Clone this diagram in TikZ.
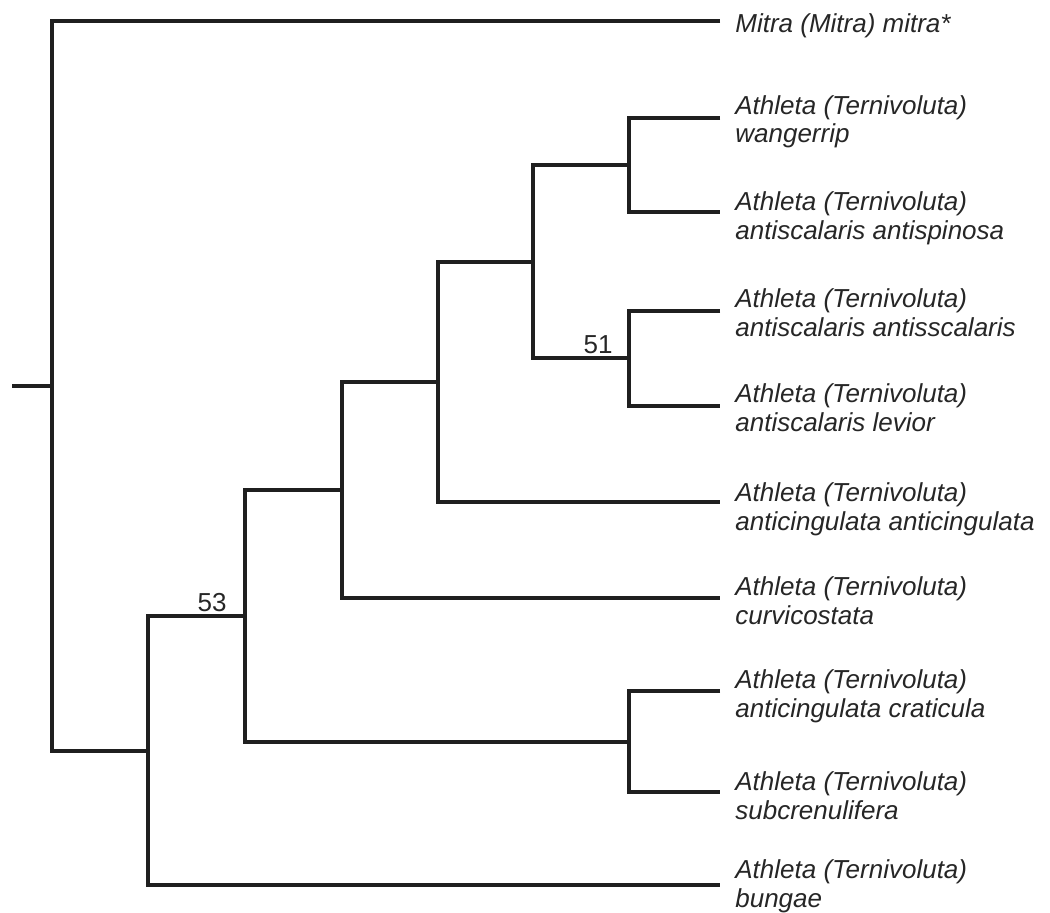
\documentclass[tikz,border=0pt]{standalone}
\usepackage{fontspec}
\setmainfont{Liberation Sans}
\usetikzlibrary{positioning}

\begin{document}
\begin{tikzpicture}[
  x=0.02cm, y=-0.02cm,
  branch/.style={line width=2pt,black!88},
  taxon/.style={font=\itshape\fontsize{14.8}{16.5}\selectfont,text=black!85,anchor=base west,inner sep=0pt,align=left},
  support/.style={font=\fontsize{14.8}{16.5}\selectfont,text=black!85,anchor=base east,inner sep=0pt}]
\useasboundingbox (0,0) rectangle (1050,912);
% internal nodes
\coordinate (stem) at (12,386);
\coordinate (root) at (52,386);
\coordinate (bun) at (148,751);
\coordinate (n53) at (245,616);
\coordinate (cur) at (342,490);
\coordinate (aci) at (438,382);
\coordinate (ant) at (533,262);
\coordinate (wan) at (629,165);
\coordinate (n51) at (629,358);
\coordinate (cra) at (629,742);
% tips
\foreach \t/\y in {mitra/21,wangerrip/118,antispinosa/212,antisscalaris/311,levior/406,anticingulata/502,curvicostata/598,craticula/691,subcrenulifera/792,bungae/885}
  \coordinate (\t) at (720,\y);
% branches
\draw[branch] (stem)--(root);
\foreach \up/\p/\dn in {mitra/root/bun,n53/bun/bungae,cur/n53/cra,aci/cur/curvicostata,ant/aci/anticingulata,wan/ant/n51,wangerrip/wan/antispinosa,antisscalaris/n51/levior,craticula/cra/subcrenulifera}
  \draw[branch] (\up) -| (\p) |- (\dn);
% labels (base = second line)
\node[taxon] (l-mitra) at (735,33) {Mitra (Mitra) mitra*};
\node[taxon] (l-wangerrip) at (735,143) {Athleta (Ternivoluta)\\wangerrip};
\node[taxon] (l-antispinosa) at (735,239) {Athleta (Ternivoluta)\\antiscalaris antispinosa};
\node[taxon] (l-antisscalaris) at (735,336) {Athleta (Ternivoluta)\\antiscalaris antisscalaris};
\node[taxon] (l-levior) at (735,431) {Athleta (Ternivoluta)\\antiscalaris levior};
\node[taxon] (l-anticingulata) at (735,530) {Athleta (Ternivoluta)\\anticingulata anticingulata};
\node[taxon] (l-curvicostata) at (735,624) {Athleta (Ternivoluta)\\curvicostata};
\node[taxon] (l-craticula) at (735,717) {Athleta (Ternivoluta)\\anticingulata craticula};
\node[taxon] (l-subcrenulifera) at (735,819) {Athleta (Ternivoluta)\\subcrenulifera};
\node[taxon] (l-bungae) at (735,907) {Athleta (Ternivoluta)\\bungae};
\node[support] (s53) at ([shift={(-18,-5)}]n53) {53};
\node[support] (s51) at ([shift={(-16,-5)}]n51) {51};
\end{tikzpicture}
\end{document}
